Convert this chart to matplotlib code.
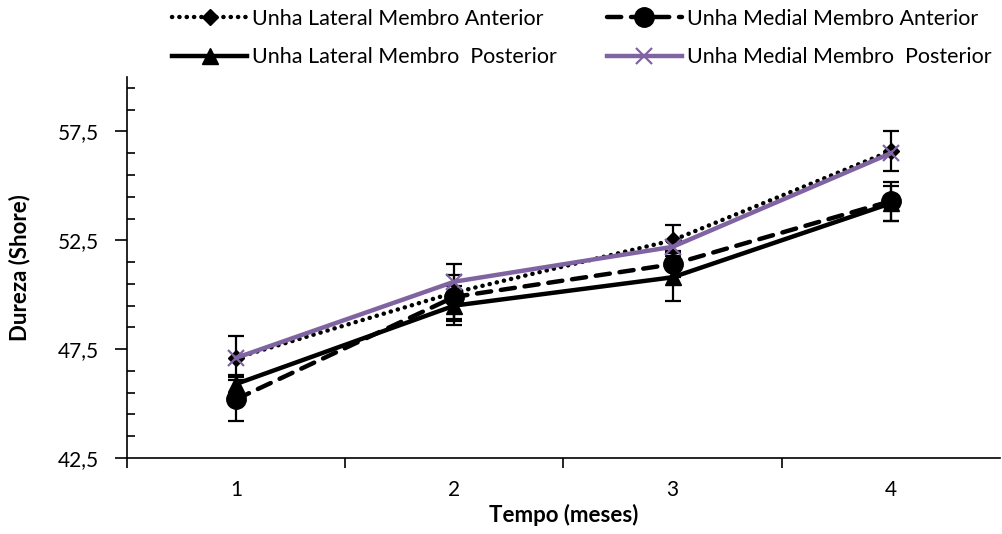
import numpy as np
import matplotlib.pyplot as plt
from matplotlib.ticker import FixedLocator, FuncFormatter

plt.rcParams['font.family'] = ['Lato', 'DejaVu Sans']

meses = [1, 2, 3, 4]
meses_labels = ['1', '2', '3', '4']

lat_ant = [47.1, 50.1, 52.5, 56.6]
lat_ant_err = [1.0, 1.3, 0.7, 0.9]
med_ant = [45.2, 49.9, 51.4, 54.3]
med_ant_err = [1.0, 1.0, 0.6, 0.9]
lat_pos = [45.9, 49.5, 50.8, 54.2]
lat_pos_err = [0.4, 0.9, 1.1, 0.8]
med_pos = [47.1, 50.6, 52.2, 56.5]

nomes = ['Unha Lateral Membro Anterior', 'Unha Medial Membro Anterior',
         'Unha Lateral Membro  Posterior', 'Unha Medial Membro  Posterior']

purple = '#8064A2'

fig = plt.figure(figsize=(10.03, 5.34), dpi=100)
ax = fig.add_axes([127 / 1003, 76 / 534, 873 / 1003, 381 / 534])

x = np.array(meses)

eb1 = ax.errorbar(x, lat_ant, yerr=lat_ant_err, color='black', lw=3.2,
                  linestyle=(0, (0.05, 1.6)), dash_capstyle='round',
                  marker='D', markersize=8, ecolor='black', elinewidth=1.6,
                  capsize=6, capthick=1.6, zorder=3)
eb2 = ax.errorbar(x, med_ant, yerr=med_ant_err, color='black', lw=3.2,
                  linestyle=(0, (3.2, 2.2)), dash_capstyle='round',
                  marker='o', markersize=14, ecolor='black', elinewidth=1.6,
                  capsize=6, capthick=1.6, zorder=3)
eb3 = ax.errorbar(x, lat_pos, yerr=lat_pos_err, color='black', lw=3.2,
                  linestyle='-', marker='^', markersize=11, ecolor='black',
                  elinewidth=1.6, capsize=6, capthick=1.6, zorder=3)
l4, = ax.plot(x, med_pos, color=purple, lw=3.2, marker='x', markersize=12,
              markeredgewidth=1.6, zorder=4)

ax.set_xlim(0.5, 4.5)
ax.set_ylim(42.5, 60)
ax.set_xticks(x)
ax.set_xticklabels(meses_labels)
ax.set_xticks([0.5, 1.5, 2.5, 3.5], minor=True)
ax.tick_params(axis='x', which='major', length=0, pad=16, labelsize=15)
ax.tick_params(axis='x', which='minor', length=7, width=1.2, direction='out')

ax.yaxis.set_major_locator(FixedLocator([42.5, 47.5, 52.5, 57.5]))
ax.yaxis.set_minor_locator(FixedLocator(np.arange(43.5, 60, 1.0)))
ax.yaxis.set_major_formatter(FuncFormatter(lambda v, p: f'{v:.1f}'.replace('.', ',')))
ax.tick_params(axis='y', which='major', length=9, width=1.2, direction='out',
               labelsize=15, pad=11)
ax.tick_params(axis='y', which='minor', length=6, width=1.2, direction='in')

for s in ['top', 'right']:
    ax.spines[s].set_visible(False)
for s in ['left', 'bottom']:
    ax.spines[s].set_linewidth(1.2)

ax.set_xlabel('Tempo (meses)', fontsize=16, fontweight='bold', labelpad=3)
ax.set_ylabel('Dureza (Shore)', fontsize=16, fontweight='bold', labelpad=20)

handles = [eb1[0], eb3[0], eb2[0], l4]
labels = [nomes[0], nomes[2], nomes[1], nomes[3]]
leg = fig.legend(handles, labels, loc='upper left',
                 bbox_to_anchor=(172 / 1003, 1 - 9 / 534), ncol=2,
                 frameon=False, fontsize=15.5, handlelength=3.5, handletextpad=0.23,
                 columnspacing=2.3, labelspacing=0.84, borderpad=0, borderaxespad=0)

fig.savefig('out.png', dpi=100)
